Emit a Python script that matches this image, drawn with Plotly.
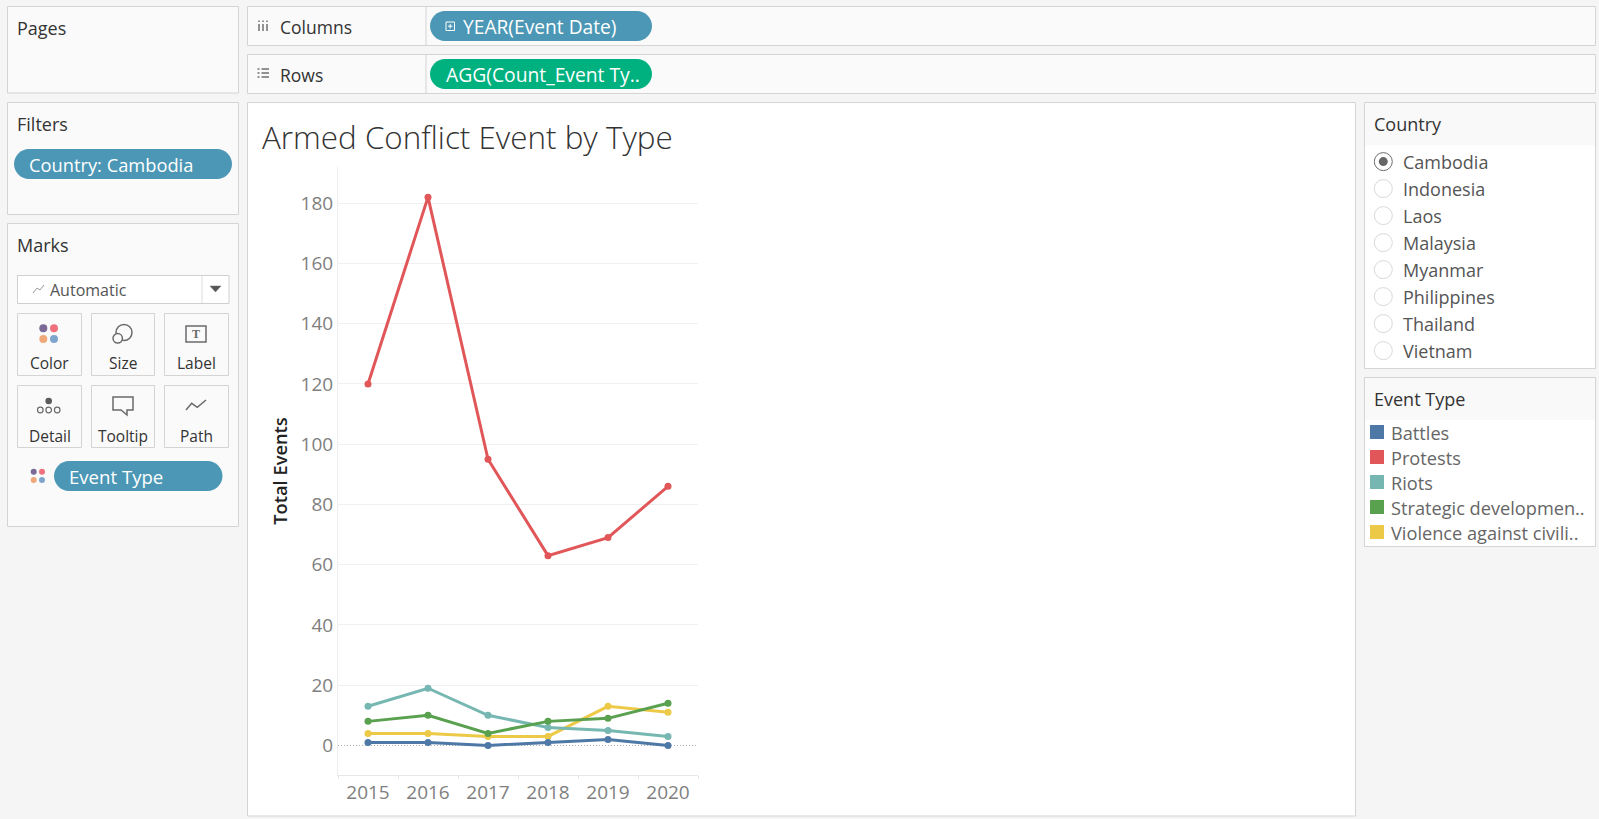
import plotly.graph_objects as go

# chart values
years = ["2015", "2016", "2017", "2018", "2019", "2020"]
battles = [1, 1, 0, 1, 2, 0]
protests = [120, 182, 95, 63, 69, 86]
riots = [13, 19, 10, 6, 5, 3]
strategic = [8, 10, 4, 8, 9, 14]
violence = [4, 4, 3, 3, 13, 11]
y_ticks = [0, 20, 40, 60, 80, 100, 120, 140, 160, 180]

countries = ["Cambodia", "Indonesia", "Laos", "Malaysia", "Myanmar", "Philippines", "Thailand", "Vietnam"]
legend_labels = ["Battles", "Protests", "Riots", "Strategic developmen..", "Violence against civili.."]
legend_colors = ["#4e79a7", "#e15759", "#76b7b2", "#59a14f", "#edc948"]

W = 1599
H = 819
FONT = "Open Sans"
DARK = "#333333"
GREY = "#6f6f6f"
BORDER = "#d4d4d4"
BLUE_PILL = "#4b97b5"
GREEN_PILL = "#00b180"

shapes = []
notes = []


def fx(x):
    return x / W


def fy(y):
    return 1 - y / H


def box(x0, y0, x1, y1, fill="#fafafa", line=BORDER, width=1):
    shapes.append(dict(type="rect", xref="paper", yref="paper", x0=fx(x0), x1=fx(x1), y0=fy(y0), y1=fy(y1),
                       fillcolor=fill, line=dict(color=line, width=width), layer="below"))


def circle(cx, cy, r, fill="rgba(0,0,0,0)", line="rgba(0,0,0,0)", width=1):
    shapes.append(dict(type="circle", xref="paper", yref="paper", x0=fx(cx - r), x1=fx(cx + r), y0=fy(cy - r),
                       y1=fy(cy + r), fillcolor=fill, line=dict(color=line, width=width), layer="below"))


def poly(points, line=GREY, width=1.5, fill=None, close=False):
    d = "M " + " L ".join(f"{fx(x):.5f} {fy(y):.5f}" for x, y in points)
    if close:
        d += " Z"
    shapes.append(dict(type="path", xref="paper", yref="paper", path=d, line=dict(color=line, width=width),
                       fillcolor=fill if fill else "rgba(0,0,0,0)", layer="below"))


def pill(x0, y0, x1, y1, fill):
    r = (y1 - y0) / 2
    k = r * 0.55
    d = (f"M {fx(x0 + r):.5f} {fy(y0):.5f} L {fx(x1 - r):.5f} {fy(y0):.5f} "
         f"C {fx(x1 - r + k):.5f} {fy(y0):.5f} {fx(x1):.5f} {fy(y0 + r - k):.5f} {fx(x1):.5f} {fy(y0 + r):.5f} "
         f"C {fx(x1):.5f} {fy(y0 + r + k):.5f} {fx(x1 - r + k):.5f} {fy(y1):.5f} {fx(x1 - r):.5f} {fy(y1):.5f} "
         f"L {fx(x0 + r):.5f} {fy(y1):.5f} "
         f"C {fx(x0 + r - k):.5f} {fy(y1):.5f} {fx(x0):.5f} {fy(y0 + r + k):.5f} {fx(x0):.5f} {fy(y0 + r):.5f} "
         f"C {fx(x0):.5f} {fy(y0 + r - k):.5f} {fx(x0 + r - k):.5f} {fy(y0):.5f} {fx(x0 + r):.5f} {fy(y0):.5f} Z")
    shapes.append(dict(type="path", xref="paper", yref="paper", path=d, fillcolor=fill, line=dict(width=0),
                       layer="below"))


def label(x, y, text, size=16, color=DARK, anchor="left"):
    # annotations sit about 2px right of the asked x when left anchored
    if anchor == "left":
        x = x - 2
    notes.append(dict(xref="paper", yref="paper", x=fx(x), y=fy(y), text=text, showarrow=False, xanchor=anchor,
                      yanchor="middle", borderpad=0, font=dict(family=FONT, size=size, color=color)))


# panels
box(7.5, 6.5, 238.5, 93)
box(7.5, 102.5, 238.5, 214.5)
box(7.5, 223.5, 238.5, 526.5)
box(247.5, 6.5, 1595.5, 45.5)
box(247.5, 54.5, 1595.5, 93.5)
box(247.5, 102.5, 1355.5, 816, fill="#ffffff")
box(1364.5, 102.5, 1595.5, 368.5, fill="#ffffff")
box(1364.5, 377.5, 1595.5, 546.5, fill="#ffffff")
box(1365, 103, 1595, 145, fill="#f9f9f9", line="#f9f9f9", width=0)
box(1365, 378, 1595, 420, fill="#f9f9f9", line="#f9f9f9", width=0)
poly([(426, 7), (426, 45)], line=BORDER, width=1)
poly([(426, 55), (426, 93)], line=BORDER, width=1)

label(17.5, 28.5, "Pages", 18)
label(17.5, 124, "Filters", 18)
label(17.5, 245, "Marks", 18)
label(281, 27, "Columns", 17.5)
label(281, 74.5, "Rows", 17.5)
label(1374.5, 124, "Country", 18)
label(1374.5, 399, "Event Type", 18)

# columns and rows icons
for x in [259, 263, 267]:
    poly([(x, 24), (x, 31)], width=1.5)
    poly([(x, 20.5), (x, 22)], width=1.5)
for y in [69, 73, 77]:
    poly([(257.5, y), (259.5, y)], width=1.5)
    poly([(261.5, y), (269, y)], width=1.5)

# pills
pill(430, 11, 652, 41, BLUE_PILL)
pill(430, 59, 652, 89, GREEN_PILL)
pill(14, 149, 232, 179, BLUE_PILL)
pill(54, 461, 222.5, 491, BLUE_PILL)
box(446, 22, 454.5, 30.5, fill="rgba(0,0,0,0)", line="#ffffff")
poly([(448, 26.2), (452.5, 26.2)], line="#ffffff", width=1)
poly([(450.2, 24), (450.2, 28.5)], line="#ffffff", width=1)
label(464, 27, "YEAR(Event Date)", 19.2, "#ffffff")
label(447, 74.5, "AGG(Count_Event Ty..", 19.3, "#ffffff")
label(30, 164.5, "Country: Cambodia", 18.3, "#ffffff")
label(70, 476.5, "Event Type", 18.6, "#ffffff")

# marks card
box(17.5, 275.5, 229, 303.5, fill="#ffffff", line="#cfcfcf")
poly([(202, 276), (202, 303)], line="#dddddd", width=1)
poly([(210, 286), (221, 286), (215.5, 292)], line=GREY, width=0.5, fill="#555555", close=True)
poly([(33, 293), (37, 288), (40, 290), (44, 285)], line="#9a9a9a", width=1)
label(50.5, 289.5, "Automatic", 16, "#555555")

for x0, x1 in [(17.5, 81.5), (91.5, 154.5), (164.5, 228.5)]:
    box(x0, 313.5, x1, 375.5)
    box(x0, 385.5, x1, 447.5)
label(49.5, 363, "Color", 15.5, anchor="center")
label(123, 363, "Size", 15.5, anchor="center")
label(196.5, 363, "Label", 15.5, anchor="center")
label(49.5, 435.5, "Detail", 15.5, anchor="center")
label(123, 435.5, "Tooltip", 15.5, anchor="center")
label(196.5, 435.5, "Path", 15.5, anchor="center")

for cx, cy, col in [(43.3, 328.3, "#7b6a97"), (54, 328.3, "#f0707e"), (43.3, 339, "#efa87a"), (54, 339, "#7fa5cf")]:
    circle(cx, cy, 4, fill=col)
for cx, cy, col in [(33.7, 471.7, "#7b6a97"), (42, 471.7, "#f0707e"), (33.7, 480, "#efa87a"), (42, 480, "#7fa5cf")]:
    circle(cx, cy, 3, fill=col)
circle(124, 332.5, 8, line="#6a6a6a", width=1.5)
circle(117.7, 338.3, 4.7, fill="#fafafa", line="#6a6a6a", width=1.5)
box(186, 326, 206, 342, fill="rgba(0,0,0,0)", line="#6a6a6a", width=1.5)
notes.append(dict(xref="paper", yref="paper", x=fx(196), y=fy(334), text="<b>T</b>", showarrow=False,
                  xanchor="center", yanchor="middle",
                  font=dict(family="Liberation Serif", size=12, color="#6a6a6a")))
circle(48.7, 401, 3.3, fill="#5c5c5c")
for x in [40.3, 48.7, 57.2]:
    circle(x, 410, 2.8, line="#6a6a6a", width=1.2)
poly([(113, 397), (133, 397), (133, 410), (127, 410), (127, 415), (121, 410), (113, 410)], line="#6a6a6a", close=True)
poly([(186, 410), (191.7, 403.3), (197.3, 407.3), (206, 400)], line="#6a6a6a")

# country filter
for i, c in enumerate(countries):
    cy = 161.6 + i * 27
    circle(1383.3, cy, 9, fill="#ffffff", line="#6f6f6f" if i == 0 else "#d9d9d9")
    if i == 0:
        circle(1383.3, cy, 4.5, fill="#666666")
    label(1404, cy + 0.5, c, 18, "#555555")

# event type legend
for i, name in enumerate(legend_labels):
    cy = 432 + i * 25
    box(1370, cy - 7, 1384, cy + 7, fill=legend_colors[i], line=legend_colors[i], width=0)
    label(1391.5, cy + 0.5, name, 18.2, "#666666")

fig = go.Figure()
series = [("Protests", protests, 1), ("Violence against civilians", violence, 4), ("Riots", riots, 2),
          ("Strategic developments", strategic, 3), ("Battles", battles, 0)]
for name, vals, c in series:
    fig.add_trace(go.Scatter(x=years, y=vals, name=name, mode="lines+markers", showlegend=False,
                             line=dict(color=legend_colors[c], width=3), marker=dict(color=legend_colors[c], size=7)))

# dotted line at zero, white underneath so the gridline does not show through
shapes.append(dict(type="line", xref="x", yref="y", x0=-0.5, x1=5.5, y0=0, y1=0,
                   line=dict(color="#ffffff", width=1.5), layer="between"))
shapes.append(dict(type="line", xref="x", yref="y", x0=-0.5, x1=5.5, y0=0, y1=0,
                   line=dict(color="#b0b0b0", width=1, dash="1px,2px"), layer="between"))

fig.update_layout(
    width=W, height=H, margin=dict(l=0, r=0, t=0, b=0), autosize=False,
    paper_bgcolor="#f5f5f5", plot_bgcolor="rgba(0,0,0,0)", showlegend=False,
    title=dict(text="Armed Conflict Event by Type", x=fx(262), y=fy(138), xref="paper", yref="paper",
               xanchor="left", yanchor="middle", font=dict(family=FONT, size=31.4, color="#333333", weight=300)),
    shapes=shapes, annotations=notes,
    xaxis=dict(domain=[fx(338), fx(698)], type="category", range=[-0.5, 5.5], tickson="boundaries",
               ticks="outside", ticklen=3, tickcolor="#e6e6e6", showgrid=False, showline=True, linecolor="#e6e6e6",
               tickfont=dict(family=FONT, size=19, color="#808080"), fixedrange=True),
    yaxis=dict(domain=[fy(775), fy(167)], range=[-9.8, 192], tickvals=y_ticks, showgrid=True, gridcolor="#f0f0f0",
               zeroline=False, showline=True, linecolor="#eeeeee", ticks="",
               tickfont=dict(family=FONT, size=19, color="#808080"), fixedrange=True,
               title=dict(text="Total Events", standoff=8,
                          font=dict(family=FONT, size=18.3, color="#222222", weight=600))),
)

fig.write_html("out.html", config={"displayModeBar": False},
               post_script="document.body.style.margin='0';document.body.style.overflow='hidden';")
